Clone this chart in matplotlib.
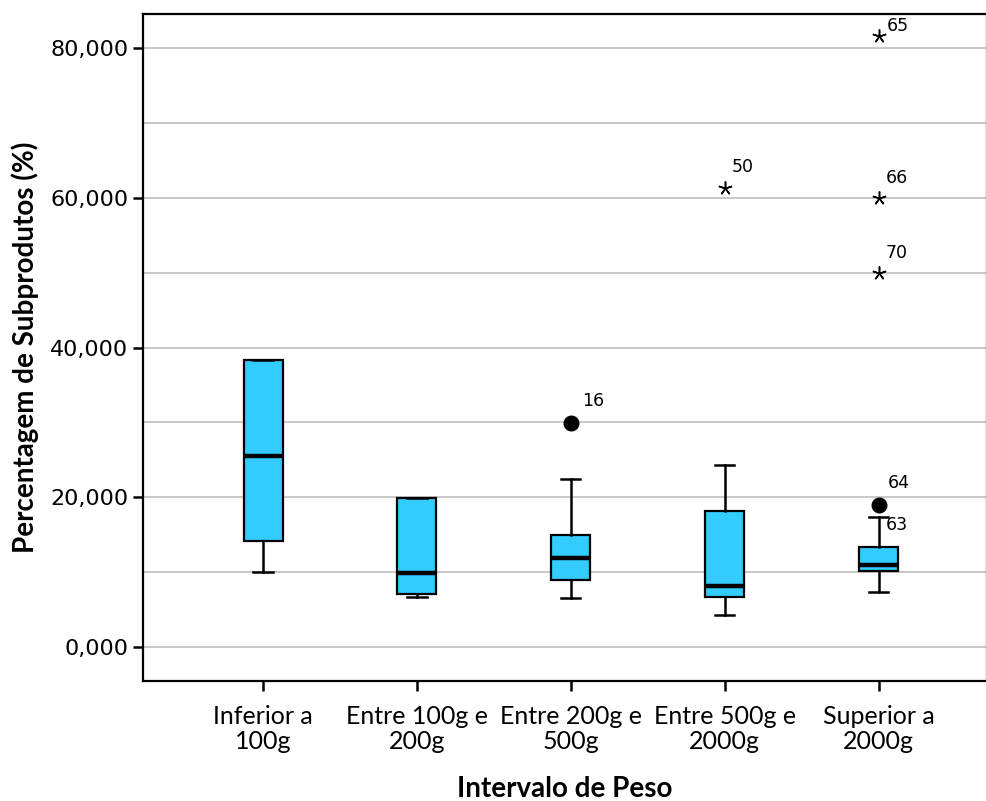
import numpy as np
import matplotlib.pyplot as plt

# categorias e estatisticas das caixas
categorias = ['Inferior a\n100g', 'Entre 100g e\n200g', 'Entre 200g e\n500g',
              'Entre 500g e\n2000g', 'Superior a\n2000g']
whisker_inf = [10.0, 6.65, 6.6, 4.3, 7.35]
q1 = [14.2, 7.05, 8.95, 6.65, 10.1]
mediana = [25.55, 9.95, 11.95, 8.2, 10.9]
q3 = [38.3, 19.95, 14.95, 18.15, 13.4]
whisker_sup = [38.3, 19.95, 22.45, 24.3, 17.35]

# outliers (circulo) e extremos (estrela): categoria, valor, caso
outlier_cat = [3, 5]
outlier_val = [29.9, 18.95]
outlier_id = ['16', '64']
extremo_cat = [4, 5, 5, 5]
extremo_val = [61.3, 81.6, 60.0, 50.0]
extremo_id = ['50', '65', '66', '70']
# rotulo extra junto ao bigode superior
extra_cat = [5]
extra_val = [17.35]
extra_id = ['63']

fig = plt.figure(figsize=(9.87, 8.01), dpi=100)
ax = fig.add_axes([0.1449, 0.1498, 0.8551, 0.8327])

pos = np.arange(1, len(categorias) + 1)
stats = []
for i in range(len(categorias)):
    stats.append(dict(med=mediana[i], q1=q1[i], q3=q3[i],
                      whislo=whisker_inf[i], whishi=whisker_sup[i], fliers=[]))

ax.bxp(stats, positions=pos, widths=0.253, patch_artist=True, showfliers=False,
       boxprops=dict(facecolor='#33CCFF', edgecolor='black', linewidth=1.6),
       medianprops=dict(color='black', linewidth=3.2),
       whiskerprops=dict(color='black', linewidth=1.8),
       capprops=dict(color='black', linewidth=1.8),
       capwidths=0.125, zorder=3)

ax.plot(outlier_cat, outlier_val, 'o', color='black', markersize=10.5, zorder=4)
ax.plot(extremo_cat, extremo_val, linestyle='none', marker=(5, 2, 0),
        color='black', markersize=10, markeredgewidth=1.1, zorder=4)

fs_num = 12.5
offs_out = [(8, 16), (7, 16)]
for c, v, t, o in zip(outlier_cat, outlier_val, outlier_id, offs_out):
    ax.annotate(t, (c, v), xytext=o, textcoords='offset points',
                fontsize=fs_num, va='center', ha='left', family='DejaVu Sans')
offs_ext = [(5, 15), (6, 7), (5, 14), (5, 14)]
for c, v, t, o in zip(extremo_cat, extremo_val, extremo_id, offs_ext):
    ax.annotate(t, (c, v), xytext=o, textcoords='offset points',
                fontsize=fs_num, va='center', ha='left', family='DejaVu Sans')
for c, v, t in zip(extra_cat, extra_val, extra_id):
    ax.annotate(t, (c, v), xytext=(5, -6), textcoords='offset points',
                fontsize=fs_num, va='center', ha='left', family='DejaVu Sans')

ax.set_xlim(0.22, 5.705)
ax.set_ylim(-4.54, 84.54)
ax.set_yticks([0, 20, 40, 60, 80])
ax.set_yticklabels(['0,000', '20,000', '40,000', '60,000', '80,000'],
                   fontsize=16, family='DejaVu Sans')
ax.set_yticks([10, 30, 50, 70], minor=True)
ax.tick_params(axis='y', which='minor', length=0)
ax.tick_params(axis='both', which='major', direction='out', length=7, width=1.8,
               color='black')
ax.tick_params(axis='x', pad=10)
ax.set_xticks(pos)
ax.set_xticklabels(categorias, fontsize=18, family='Lato', linespacing=1.15)
ax.grid(axis='y', which='both', color='#c8c8c8', linewidth=1.4, zorder=0)
ax.set_axisbelow(True)
for s in ax.spines.values():
    s.set_linewidth(1.6)
    s.set_color('black')

ax.set_xlabel('Intervalo de Peso', fontsize=20, fontweight='bold', family='Lato',
              labelpad=16)
ax.set_ylabel('Percentagem de Subprodutos (%)', fontsize=20, fontweight='bold',
              family='Lato', labelpad=8)

fig.savefig('out.png', dpi=100)
